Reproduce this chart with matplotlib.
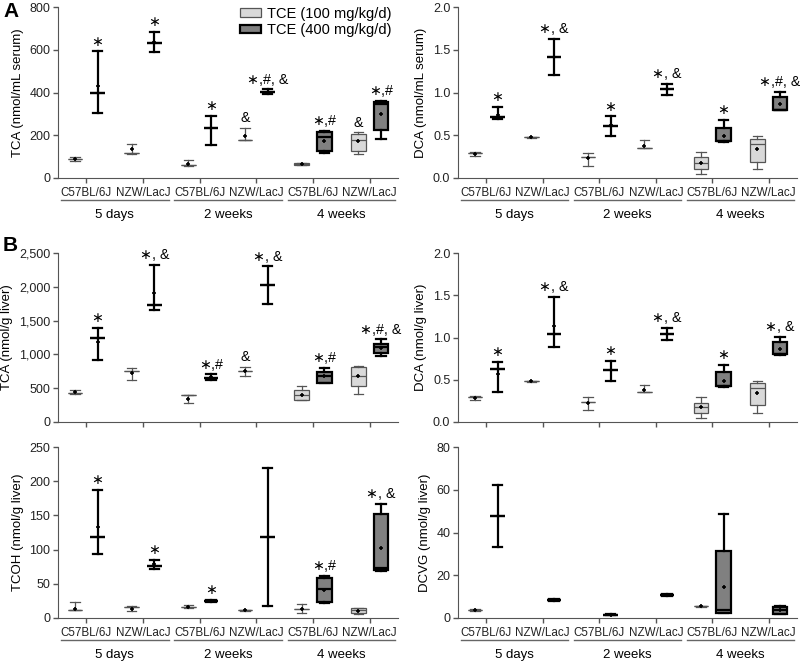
import matplotlib
matplotlib.use('Agg')
import matplotlib.pyplot as plt
from matplotlib.patches import Patch

plt.rcParams['font.family'] = ['Liberation Sans', 'DejaVu Sans']
plt.rcParams['font.size'] = 9

# categories
strains = ['C57BL/6J', 'NZW/LacJ'] * 3
periods = ['5 days', '2 weeks', '4 weeks']
doses = ['TCE (100 mg/kg/d)', 'TCE (400 mg/kg/d)']

# box stats per group: (whislo, q1, med, q3, whishi, mean)
tca_serum_100 = [(78, 88, 88, 88, 98, 90), (113, 118, 118, 118, 160, 135),
                 (57, 60, 60, 60, 83, 65), (177, 178, 178, 178, 235, 197),
                 (60, 63, 66, 70, 72, 66), (111, 127, 177, 208, 213, 174)]
tca_serum_400 = [(302, 400, 400, 400, 592, 430), (590, 631, 631, 631, 685, 635),
                 (156, 236, 236, 236, 292, 235), (392, 402, 402, 402, 415, 402),
                 (115, 128, 192, 213, 219, 174), (181, 225, 346, 357, 362, 300)]

dca_serum_100 = [(0.26, 0.29, 0.29, 0.29, 0.30, 0.28), (0.47, 0.475, 0.475, 0.475, 0.48, 0.475),
                 (0.14, 0.24, 0.24, 0.24, 0.29, 0.23), (0.35, 0.35, 0.35, 0.35, 0.44, 0.38),
                 (0.05, 0.10, 0.18, 0.25, 0.30, 0.18), (0.10, 0.19, 0.40, 0.46, 0.49, 0.34)]
dca_serum_400 = [(0.69, 0.71, 0.71, 0.71, 0.83, 0.74), (1.21, 1.42, 1.42, 1.42, 1.63, 1.42),
                 (0.49, 0.61, 0.61, 0.61, 0.72, 0.62), (0.97, 1.04, 1.04, 1.04, 1.10, 1.04),
                 (0.42, 0.43, 0.43, 0.59, 0.68, 0.49), (0.79, 0.80, 0.80, 0.95, 1.01, 0.86)]

tca_liver_100 = [(420, 430, 430, 430, 478, 444), (616, 750, 750, 750, 800, 725),
                 (286, 394, 394, 394, 394, 345), (676, 754, 754, 754, 814, 754),
                 (320, 320, 394, 478, 533, 394), (419, 533, 680, 814, 823, 675)]
tca_liver_400 = [(912, 1243, 1243, 1243, 1390, 1183), (1652, 1726, 1726, 1726, 2327, 1908),
                 (626, 651, 651, 651, 705, 666), (1746, 2022, 2022, 2022, 2303, 2022),
                 (577, 577, 680, 740, 799, 680), (971, 1021, 1109, 1149, 1223, 1100)]

dca_liver_100 = [(0.26, 0.29, 0.29, 0.29, 0.31, 0.28), (0.475, 0.48, 0.48, 0.48, 0.485, 0.48),
                 (0.14, 0.235, 0.235, 0.235, 0.29, 0.22), (0.35, 0.35, 0.35, 0.35, 0.44, 0.38),
                 (0.05, 0.11, 0.18, 0.23, 0.30, 0.18), (0.11, 0.20, 0.40, 0.46, 0.49, 0.34)]
dca_liver_400 = [(0.35, 0.63, 0.63, 0.63, 0.71, 0.57), (0.89, 1.04, 1.04, 1.04, 1.48, 1.14),
                 (0.49, 0.62, 0.62, 0.62, 0.72, 0.62), (0.97, 1.04, 1.04, 1.04, 1.11, 1.04),
                 (0.42, 0.43, 0.43, 0.59, 0.68, 0.49), (0.79, 0.80, 0.80, 0.95, 1.01, 0.86)]

tcoh_liver_100 = [(11, 11, 11, 11, 23, 13), (10, 16, 16, 16, 17, 13),
                  (14, 16, 16, 16, 19, 16), (10, 11, 11, 11, 12, 11),
                  (7, 13, 13, 13, 20, 13), (6, 7, 11, 14, 15, 10)]
tcoh_liver_400 = [(94, 118, 118, 118, 187, 133), (72, 76, 76, 76, 85, 79),
                  (23, 25, 25, 25, 26, 25), (17, 118, 118, 118, 219, 118),
                  (22, 24, 43, 59, 61, 41), (69, 70, 73, 152, 167, 103)]

dcvg_liver_100 = [(3.5, 3.8, 3.8, 3.8, 4.1, 3.8), None, None, None,
                  (5.2, 5.4, 5.4, 5.4, 5.6, 5.4), None]
dcvg_liver_400 = [(33, 47.5, 47.5, 47.5, 62, 47.5), (8.1, 8.5, 8.5, 8.5, 8.9, 8.5),
                  (1.3, 1.6, 1.6, 1.6, 1.9, 1.6), (10.4, 10.8, 10.8, 10.8, 11.2, 10.8),
                  (2.3, 2.3, 3.6, 31.5, 48.5, 14.5), (2.0, 2.0, 3.6, 5.2, 5.5, 3.6)]

# significance marks: (category index, dose index, text)
marks_tca_serum = [(0, 1, '*'), (1, 1, '*'), (2, 1, '*'), (3, 0, '&'), (3, 1, '*,#, &'),
                   (4, 1, '*,#'), (5, 0, '&'), (5, 1, '*,#')]
marks_dca_serum = [(0, 1, '*'), (1, 1, '*, &'), (2, 1, '*'), (3, 1, '*, &'), (4, 1, '*'),
                   (5, 1, '*,#, &')]
marks_tca_liver = [(0, 1, '*'), (1, 1, '*, &'), (2, 1, '*,#'), (3, 0, '&'), (3, 1, '*, &'),
                   (4, 1, '*,#'), (5, 1, '*,#, &')]
marks_dca_liver = [(0, 1, '*'), (1, 1, '*, &'), (2, 1, '*'), (3, 1, '*, &'), (4, 1, '*'),
                   (5, 1, '*, &')]
marks_tcoh_liver = [(0, 1, '*'), (1, 1, '*'), (2, 1, '*'), (4, 1, '*,#'), (5, 1, '*, &')]
marks_dcvg_liver = []

# axis ticks
tca_serum_ticks = [0, 200, 400, 600, 800]
tca_serum_labels = ['0', '200', '400', '600', '800']
dca_ticks = [0.0, 0.5, 1.0, 1.5, 2.0]
dca_labels = ['0.0', '0.5', '1.0', '1.5', '2.0']
tca_liver_ticks = [0, 500, 1000, 1500, 2000, 2500]
tca_liver_labels = ['0', '500', '1,000', '1,500', '2,000', '2,500']
tcoh_ticks = [0, 50, 100, 150, 200, 250]
tcoh_labels = ['0', '50', '100', '150', '200', '250']
dcvg_ticks = [0, 20, 40, 60, 80]
dcvg_labels = ['0', '20', '40', '60', '80']

W, H = 800, 662
fig = plt.figure(figsize=(W / 100, H / 100), dpi=100)


def make_ax(x0, y_top, y_bot, x1):
    return fig.add_axes([x0 / W, 1 - y_bot / H, (x1 - x0) / W, (y_bot - y_top) / H])


def to_stats(rows):
    out, pos = [], []
    for i, r in enumerate(rows):
        if r is None:
            continue
        lo, q1, med, q3, hi, mean = r
        out.append(dict(whislo=lo, q1=q1, med=med, q3=q3, whishi=hi, mean=mean, fliers=[]))
        pos.append(i)
    return out, pos


styles = [
    dict(face='#d9d9d9', edge='#555555', lw=0.9, off=-0.2),
    dict(face='#808080', edge='#000000', lw=1.6, off=0.2),
]


def draw_panel(ax, low, high, marks, ticks, tlabels, ylabel, show_cats):
    tops = {}
    for d, rows in enumerate([low, high]):
        st = styles[d]
        stats, pos = to_stats(rows)
        positions = [p + st['off'] for p in pos]
        ax.bxp(stats, positions=positions, widths=0.26, capwidths=0.17,
               patch_artist=True, showmeans=True, showfliers=False, manage_ticks=False,
               boxprops=dict(facecolor=st['face'], edgecolor=st['edge'], linewidth=st['lw']),
               whiskerprops=dict(color=st['edge'], linewidth=st['lw']),
               capprops=dict(color=st['edge'], linewidth=st['lw']),
               medianprops=dict(color=st['edge'], linewidth=st['lw']),
               meanprops=dict(marker='+', markeredgecolor='black', markersize=3.5,
                              markeredgewidth=1.2))
        for p, s in zip(pos, stats):
            tops[(p, d)] = s['whishi']
    for c, d, txt in marks:
        # the asterisk in the source is large and centred, use the operator glyph
        ax.annotate(txt.replace('*', '\u2217'), xy=(c + styles[d]['off'], tops[(c, d)]),
                    xytext=(0, 2), textcoords='offset points', ha='center', va='bottom',
                    fontsize=10.3, family=['Liberation Sans', 'DejaVu Sans'])
    ax.set_xlim(-0.5, 5.5)
    ax.set_ylim(ticks[0], ticks[-1])
    ax.set_yticks(ticks)
    ax.set_yticklabels(tlabels)
    ax.set_xticks(range(6))
    ax.set_xticklabels(strains if show_cats else [''] * 6, fontsize=8.4)
    ax.set_ylabel(ylabel, fontsize=9.5, labelpad=4)
    for s in ['top', 'right']:
        ax.spines[s].set_visible(False)
    for s in ['left', 'bottom']:
        ax.spines[s].set_color('#555555')
    ax.tick_params(colors='#555555', labelcolor='#222222', length=3.5, width=1, direction='out',
                   pad=2)
    ax.tick_params(axis='y', labelsize=9)
    ax.tick_params(axis='x', pad=3)
    if show_cats:
        axh = ax.get_position().height * H
        for g, name in enumerate(periods):
            ax.plot([2 * g - 0.45, 2 * g + 1.45], [-22 / axh, -22 / axh], color='#666666',
                    lw=1, transform=ax.get_xaxis_transform(), clip_on=False)
            ax.text(2 * g + 0.5, -37 / axh, name, ha='center', va='center', fontsize=9.5,
                    transform=ax.get_xaxis_transform())


ax1 = make_ax(58, 7, 178, 398)
draw_panel(ax1, tca_serum_100, tca_serum_400, marks_tca_serum, tca_serum_ticks, tca_serum_labels,
           'TCA (nmol/mL serum)', True)
ax2 = make_ax(458, 7, 178, 797)
draw_panel(ax2, dca_serum_100, dca_serum_400, marks_dca_serum, dca_ticks, dca_labels,
           'DCA (nmol/mL serum)', True)
ax3 = make_ax(58, 253, 422, 398)
draw_panel(ax3, tca_liver_100, tca_liver_400, marks_tca_liver, tca_liver_ticks, tca_liver_labels,
           'TCA (nmol/g liver)', False)
ax4 = make_ax(458, 253, 422, 797)
draw_panel(ax4, dca_liver_100, dca_liver_400, marks_dca_liver, dca_ticks, dca_labels,
           'DCA (nmol/g liver)', False)
ax5 = make_ax(58, 447, 618, 398)
draw_panel(ax5, tcoh_liver_100, tcoh_liver_400, marks_tcoh_liver, tcoh_ticks, tcoh_labels,
           'TCOH (nmol/g liver)', True)
ax6 = make_ax(458, 447, 618, 797)
draw_panel(ax6, dcvg_liver_100, dcvg_liver_400, marks_dcvg_liver, dcvg_ticks, dcvg_labels,
           'DCVG (nmol/g liver)', True)

handles = [Patch(facecolor=styles[i]['face'], edgecolor=styles[i]['edge'],
                 linewidth=styles[i]['lw']) for i in range(2)]
fig.legend(handles, doses, loc='upper right', bbox_to_anchor=(402 / W, 1.005), frameon=False,
           fontsize=10.5, handlelength=1.5, handleheight=0.55, handletextpad=0.4,
           labelspacing=0.15, borderpad=0.2)

fig.text(3 / W, 1 - 2 / H, 'A', fontsize=15, fontweight='bold', va='top', ha='left')
fig.text(3 / W, 1 - 236 / H, 'B', fontsize=15, fontweight='bold', va='top', ha='left')

fig.savefig('out.png', dpi=100)
